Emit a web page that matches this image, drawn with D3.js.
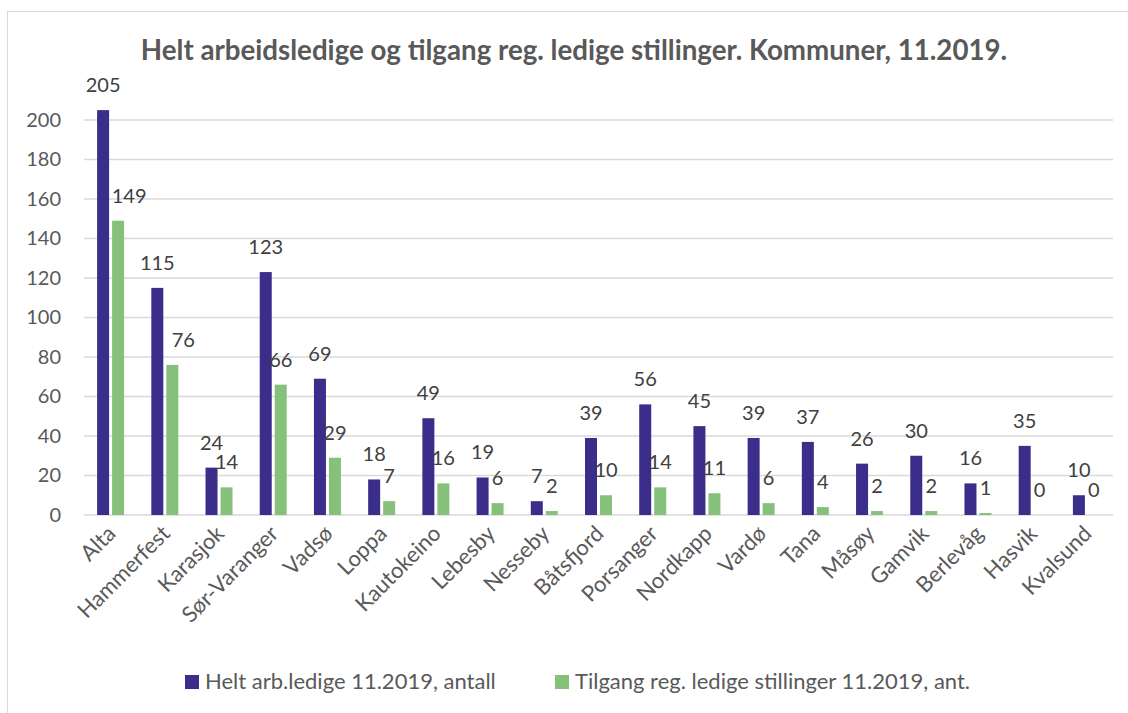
<!DOCTYPE html>
<html>
<head>
<meta charset="utf-8">
<script src="https://cdn.jsdelivr.net/npm/d3@7"></script>
<style>
  body { margin: 0; background: #fff; }
  text { font-family: Lato, "Liberation Sans", sans-serif; }
</style>
</head>
<body>
<div id="chart"></div>
<script>
// data
var kommuner = ["Alta", "Hammerfest", "Karasjok", "Sør-Varanger", "Vadsø", "Loppa", "Kautokeino",
    "Lebesby", "Nesseby", "Båtsfjord", "Porsanger", "Nordkapp", "Vardø", "Tana", "Måsøy",
    "Gamvik", "Berlevåg", "Hasvik", "Kvalsund"];
var heltLedige = [205, 115, 24, 123, 69, 18, 49, 19, 7, 39, 56, 45, 39, 37, 26, 30, 16, 35, 10];
var tilgang = [149, 76, 14, 66, 29, 7, 16, 6, 2, 10, 14, 11, 6, 4, 2, 2, 1, 0, 0];
var yTicks = [0, 20, 40, 60, 80, 100, 120, 140, 160, 180, 200];
var seriesNames = ["Helt arb.ledige 11.2019, antall", "Tilgang reg. ledige stillinger 11.2019, ant."];
var title = "Helt arbeidsledige og tilgang reg. ledige stillinger. Kommuner, 11.2019.";

var width = 1128, height = 713;
var colors = ["#3a2e8a", "#85c17a"];

var svg = d3.select("#chart").append("svg")
    .attr("width", width)
    .attr("height", height);

// chart frame
svg.append("rect")
    .attr("x", 7.5).attr("y", 11.5)
    .attr("width", 1130).attr("height", 720)
    .style("fill", "none")
    .style("stroke", "#d9d9d9");

var x = d3.scaleBand()
    .domain(kommuner)
    .range([84, 1114]);

var y = d3.scaleLinear()
    .domain([0, 200])
    .range([515, 120]);

// gridlines
svg.selectAll(".grid")
    .data(yTicks).enter()
    .append("line")
    .attr("x1", 84).attr("x2", 1113)
    .attr("y1", function (d) { return y(d); })
    .attr("y2", function (d) { return y(d); })
    .style("stroke", "#d9d9d9")
    .style("stroke-width", function (d) { return d == 0 ? 1.6 : 1.3; });

// y axis labels
var yAxis = d3.axisLeft(y).tickValues(yTicks).tickSize(0).tickPadding(0);
svg.append("g")
    .attr("transform", "translate(61,0)")
    .call(yAxis)
    .call(function (g) { g.select(".domain").remove(); })
    .selectAll("text")
    .style("font-size", "20px")
    .style("fill", "#595959")
    .style("font-family", "Lato, sans-serif");

var rows = kommuner.map(function (k, i) {
    return { name: k, a: heltLedige[i], b: tilgang[i] };
});

// these two labels were moved right in the original
var nudged = ["Alta", "Hammerfest"];

// bars
var groups = svg.selectAll(".grp")
    .data(rows).enter()
    .append("g")
    .attr("transform", function (d) { return "translate(" + (x(d.name) + x.bandwidth() / 2) + ",0)"; });

groups.append("rect")
    .attr("x", -14).attr("width", 12)
    .attr("y", function (d) { return y(d.a); })
    .attr("height", function (d) { return y(0) - y(d.a); })
    .style("fill", colors[0]);

groups.append("rect")
    .attr("x", 1).attr("width", 12)
    .attr("y", function (d) { return y(d.b); })
    .attr("height", function (d) { return y(0) - y(d.b); })
    .style("fill", colors[1]);

// data labels
groups.append("text")
    .attr("x", -8)
    .attr("y", function (d) { return y(d.a) - 18; })
    .attr("text-anchor", "middle")
    .style("font-size", "20px")
    .style("fill", "#404040")
    .text(function (d) { return d.a; });

groups.append("text")
    .attr("x", function (d) { return nudged.indexOf(d.name) >= 0 ? 18 : 7; })
    .attr("y", function (d) { return y(d.b) - 18; })
    .attr("text-anchor", "middle")
    .style("font-size", "20px")
    .style("fill", "#404040")
    .text(function (d) { return d.b; });

// category labels, rotated
groups.append("text")
    .attr("text-anchor", "end")
    .attr("transform", "translate(6,535) rotate(-45)")
    .style("font-size", "22px")
    .style("fill", "#595959")
    .text(function (d) { return d.name; });

// title
svg.append("text")
    .attr("x", 574).attr("y", 60)
    .attr("text-anchor", "middle")
    .style("font-size", "27.7px")
    .style("font-weight", "bold")
    .style("fill", "#595959")
    .text(title);

// legend
var legendX = [185, 555];
var legend = svg.selectAll(".leg")
    .data(seriesNames).enter()
    .append("g")
    .attr("transform", function (d, i) { return "translate(" + legendX[i] + ",675)"; });

legend.append("rect")
    .attr("width", 14).attr("height", 14)
    .style("fill", function (d, i) { return colors[i]; });

legend.append("text")
    .attr("x", 20).attr("y", 14)
    .style("font-size", "22px")
    .style("fill", "#595959")
    .text(function (d) { return d; });
</script>
</body>
</html>
